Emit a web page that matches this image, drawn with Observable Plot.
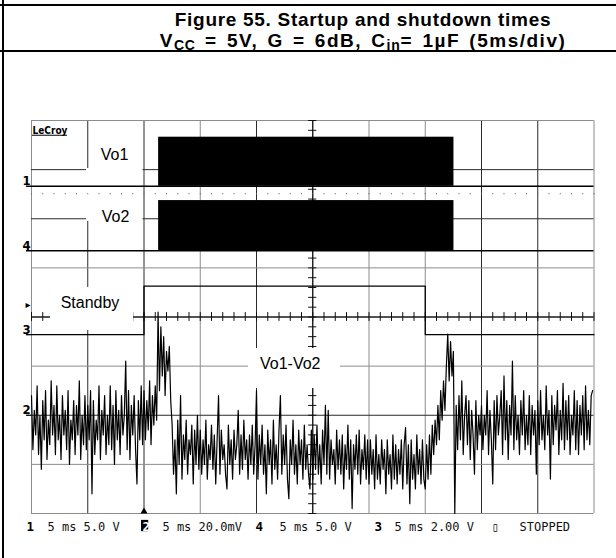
<!DOCTYPE html>
<html>
<head>
<meta charset="utf-8">
<script src="https://cdn.jsdelivr.net/npm/d3@7"></script>
<script src="https://cdn.jsdelivr.net/npm/@observablehq/plot@0.6"></script>
<style>
  html, body { margin: 0; padding: 0; background: #fff; }
  #page { position: relative; width: 616px; height: 558px; overflow: hidden; background: #fff; }
  .rule { position: absolute; background: #000; }
  .tline { position: absolute; left: 110px; width: 506px; text-align: center; white-space: nowrap;
           font-family: "Liberation Sans", Arial, Helvetica, sans-serif; font-weight: bold;
           font-size: 19px; line-height: 18px; color: #000; }
  #t1 { letter-spacing: 0.7px; }
  #t2 { letter-spacing: 1.5px; word-spacing: 2.5px; }
  .sub { font-size: 14px; position: relative; top: 3.5px; letter-spacing: 0.8px; }
  #chart { position: absolute; left: 0; top: 52px; }
  #chart svg { display: block; }
</style>
</head>
<body>
<div id="page">
  <div class="tline" id="t1" style="top:10.6px"></div>
  <div class="tline" id="t2" style="top:31.9px"></div>
  <div id="chart"></div>
  <div class="rule" style="left:0;top:3.5px;width:616px;height:2px"></div>
  <div class="rule" style="left:0;top:50px;width:616px;height:2px"></div>
  <div class="rule" style="left:2px;top:0;width:2px;height:558px"></div>
</div>
<script>
// ---------------- data (time in ms, 5 ms/div; amplitude in screen divisions, 0 = bottom) -------------
const titleLine1 = "Figure 55. Startup and shutdown times";
const titleLine2 = ["V", "CC", " = 5V, G = 6dB, C", "in", "= 1µF (5ms/div)"];

const timeDomain = [0, 50];       // 10 div x 5 ms
const divDomain = [0, 8];         // 8 vertical divisions

const outputs = ["Vo1", "Vo2"];
const outBase = [6.66, 5.35];     // channel 1 / channel 4 ground level
const outPeak = [7.66, 6.37];     // top of the audio burst envelope
const burstWindow = [11.3, 37.55];

const standbyT = [0, 10, 10, 35, 35, 50];
const standbyLvl = [3.64, 3.64, 4.63, 4.63, 3.64, 3.64];

const diffBase = 2.0;             // channel 2 ground level
const sampleStep = 0.125;         // ms between samples of Vo1-Vo2
const vo1vo2 = [
  // 0-5 ms
  2.4,1.3,2.1,1.6,2.6,1.2,2.0,0.9,2.3,1.5,2.5,1.1,1.9,1.4,2.7,1.6,2.2,1.2,2.6,1.5,
  2.0,1.1,2.4,1.6,2.1,1.3,2.5,1.0,1.9,1.5,2.3,1.2,2.2,1.6,2.7,1.1,2.0,1.4,2.4,1.3,
  // 5-10 ms
  2.2,1.5,2.5,0.4,2.3,1.2,1.9,1.5,2.6,1.1,2.1,1.6,2.4,1.2,2.0,1.4,2.6,1.3,2.2,1.0,
  2.5,1.5,2.1,1.2,2.4,1.6,2.0,3.1,1.3,2.5,1.1,2.2,1.6,2.4,1.3,0.6,2.3,1.5,2.6,1.4,
  // 10-15 ms (startup pop)
  2.5,1.5,2.3,1.7,2.7,1.4,2.4,1.8,2.6,1.9,4.1,2.5,3.8,2.8,3.6,2.4,3.3,2.9,3.4,2.3,
  1.8,0.8,1.5,0.4,1.9,1.0,2.4,0.7,1.6,1.1,1.9,0.8,1.5,1.2,1.8,0.6,1.7,1.0,2.0,0.9,
  // 15-20 ms
  1.7,0.8,1.5,1.0,1.9,0.7,1.4,1.1,1.8,0.9,1.6,0.6,1.5,2.4,0.8,1.7,1.1,1.4,0.8,0.5,
  1.8,1.0,1.5,0.7,1.7,1.1,1.4,2.1,0.8,1.6,0.9,1.9,1.1,1.5,0.7,1.6,1.0,1.8,0.8,1.4,
  // 20-25 ms
  2.5,0.7,1.6,1.0,1.8,0.8,1.4,0.4,1.7,1.0,1.5,0.6,1.9,0.9,1.4,0.7,1.7,2.4,0.8,1.6,
  1.0,1.8,0.7,0.3,1.5,1.0,1.9,0.8,1.4,0.6,1.7,1.0,1.5,0.7,1.8,0.9,1.4,0.8,0.5,1.7,
  // 25-30 ms
  0.7,1.6,0.9,1.8,0.8,1.4,0.6,1.7,1.0,2.2,0.8,2.1,0.7,1.5,1.0,1.3,0.6,1.7,0.9,1.5,
  0.8,1.6,0.5,1.4,0.9,1.8,0.7,1.5,0.1,1.4,0.9,1.6,0.8,1.7,0.6,1.3,0.9,1.6,0.7,1.5,
  // 30-35 ms
  0.6,1.5,0.8,1.3,0.5,1.6,0.7,1.2,0.6,1.5,0.9,1.3,0.4,1.5,0.8,1.2,0.5,1.6,0.7,1.4,
  0.6,1.3,0.8,1.5,0.5,1.4,1.75,0.6,1.4,0.2,1.5,0.7,1.2,0.5,1.6,0.8,1.3,0.6,1.5,0.7,
  // 35-40 ms (shutdown pop)
  0.5,1.4,0.7,1.6,0.8,1.8,1.2,1.9,1.4,2.2,1.5,2.5,1.9,2.7,2.1,3.0,3.65,2.7,3.5,2.8,
  3.3,0.0,2.2,1.3,2.4,1.5,2.7,1.2,2.0,2.4,1.4,2.3,1.1,2.1,1.6,0.8,2.3,1.3,2.0,1.6,
  // 40-45 ms
  2.2,1.3,2.0,1.6,2.5,1.2,2.1,1.5,0.6,2.3,1.3,2.4,1.6,2.0,2.5,1.2,2.8,1.5,2.3,1.1,
  2.2,1.6,3.1,1.3,2.4,1.5,2.0,1.2,2.3,1.6,2.5,1.3,2.0,1.4,2.4,1.2,2.2,1.6,2.1,0.8,
  // 45-50 ms
  2.3,1.4,2.5,1.5,2.0,1.3,2.6,1.6,2.1,0.7,2.4,1.4,2.2,1.7,2.5,1.2,2.1,1.5,2.65,1.3,
  2.3,1.5,2.4,1.2,2.0,1.6,2.5,1.3,2.3,1.2,2.2,1.6,2.4,1.3,2.6,1.5,2.1,1.4,2.4,2.5
];

const traceLabels = ["Vo1", "Vo2", "Standby", "Vo1-Vo2"];
const markerDigits = ["1", "4", "3", "2"];
const markerLevels = [6.66, 5.35, 3.64, 2.0];
const statusDigits = ["1", "2", "4", "3"];
const statusSettings = ["5 ms 5.0 V", "5 ms 20.0mV", "5 ms 5.0 V", "5 ms 2.00 V"];
const statusState = ["▯", "STOPPED"];

// ---------------- layout (annotation positions, data units) ----------------
const labelPos = [[7.38, 7.31], [7.47, 6.04], [5.2, 4.285], [23.0, 3.04]];
const labelMasks = [
  {x1: 4.89, x2: 9.91, y1: 5.944, y2: 7.023},
  {x1: 1.69, x2: 9.07, y1: 3.725, y2: 4.60},
  {x1: 19.29, x2: 27.47, y1: 2.545, y2: 3.359}
];
const digitX = [-0.44, 9.87, 19.91, 30.49];
const settingsX = [1.42, 11.64, 22.04, 32.27];
const stateX = [40.89, 43.38];
const statusY = -0.35;

// ---------------- title ----------------
document.getElementById("t1").textContent = titleLine1;
document.getElementById("t2").innerHTML =
  titleLine2.map((s, i) => i % 2 === 1 ? `<span class="sub">${s}</span>` : s).join("");

// ---------------- derived ----------------
const diffData = vo1vo2.map((v, i) => ({t: i * sampleStep, v}));
const standbyData = standbyT.map((t, i) => ({t, v: standbyLvl[i]}));
const vMajor = d3.range(timeDomain[0], timeDomain[1] + 0.001, 5);
const hMajor = d3.range(divDomain[0], divDomain[1] + 0.001, 1);
const xMinor = d3.range(timeDomain[0], timeDomain[1] + 0.001, 1);
const yMinor = d3.range(divDomain[0], divDomain[1] + 0.001, 0.2);
const darkV = new Set([5, 10, 20, 25, 40, 45]);
const darkH = new Set([2, 4, 6, 7]);
const cx = 25, cy = 4;
const light = "#8c8c8c", dark = "#2a2a2a";
const sans = "'Liberation Sans', Arial, Helvetica, sans-serif";
const mono = "'DejaVu Sans Mono', monospace";

const chart = Plot.plot({
  width: 616,
  height: 506,
  marginLeft: 31,
  marginRight: 22.5,
  marginTop: 68,
  marginBottom: 45,
  x: {domain: timeDomain, axis: null},
  y: {domain: divDomain, axis: null},
  style: {background: "white", overflow: "visible", fontFamily: sans},
  marks: [
    // graticule
    Plot.ruleX(vMajor.filter(d => !darkV.has(d)), {stroke: light}),
    Plot.ruleX(vMajor.filter(d => darkV.has(d)), {stroke: dark}),
    Plot.ruleY(hMajor.filter(d => !darkH.has(d)), {stroke: light}),
    Plot.ruleY(hMajor.filter(d => darkH.has(d)), {stroke: dark}),
    Plot.ruleX(xMinor, {y1: cy - 0.09, y2: cy + 0.09, stroke: "#111"}),
    Plot.ruleY(yMinor, {x1: cx - 0.36, x2: cx + 0.36, stroke: "#111"}),
    Plot.ruleX([cx], {stroke: "#111"}),
    Plot.ruleY([cy], {stroke: "#111"}),
    // label boxes blank the graticule
    Plot.rect(labelMasks, {x1: "x1", x2: "x2", y1: "y1", y2: "y2", fill: "white"}),
    Plot.dot(xMinor, {x: d => d, y: 6.51, r: 0.6, fill: "#666", stroke: null}),
    // Vo1 / Vo2 audio bursts
    Plot.rect(outputs, {x1: burstWindow[0], x2: burstWindow[1],
      y1: (d, i) => outBase[i], y2: (d, i) => outPeak[i], fill: "black"}),
    Plot.ruleY(outBase, {x1: timeDomain[0] - 0.45, x2: timeDomain[1], stroke: "black", strokeWidth: 1.5}),
    // Standby
    Plot.line(standbyData, {x: "t", y: "v", stroke: "black", strokeWidth: 1.3}),
    Plot.ruleY([standbyLvl[0], diffBase], {x1: timeDomain[0] - 0.45, x2: timeDomain[0], stroke: "black", strokeWidth: 1.3}),
    // Vo1-Vo2
    Plot.line(diffData, {x: "t", y: "v", stroke: "#000", strokeWidth: 1.2}),
    // trace labels
    Plot.text(traceLabels, {x: (d, i) => labelPos[i][0], y: (d, i) => labelPos[i][1], text: d => d,
      fontSize: 16, fontFamily: sans, fill: "black"}),
    Plot.text(["LeCroy"], {x: 0.09, y: 7.735, text: d => d, textAnchor: "start", lineAnchor: "bottom",
      fontSize: 10, fontWeight: "bold", fontFamily: "'DejaVu Sans Condensed', 'DejaVu Sans', sans-serif", fill: "black"}),
    Plot.ruleY([7.70], {x1: 0.09, x2: 3.2, stroke: "black", strokeWidth: 1}),
    // channel markers
    Plot.text(markerDigits, {x: -0.08, y: (d, i) => markerLevels[i], text: d => d, textAnchor: "end",
      lineAnchor: "bottom", dy: -1, fontSize: 13, fontWeight: "bold",
      fontFamily: "'Liberation Sans Narrow', 'DejaVu Sans Condensed', sans-serif", fill: "black"}),
    Plot.text(["▸"], {x: -0.31, y: 4.244, text: d => d, fontSize: 10, fontFamily: "'DejaVu Sans', sans-serif", fill: "black"}),
    Plot.dot([standbyT[1]], {x: d => d, y: divDomain[0], symbol: "triangle", r: 2.6, dy: -2, fill: "black", stroke: null}),
    // status line
    Plot.rect([statusDigits[1]], {x1: digitX[1] - 0.09, x2: digitX[1] + 0.55, y1: statusY - 0.02, y2: statusY + 0.21, fill: "black"}),
    Plot.text(statusDigits.filter((d, i) => i !== 1), {x: (d, i) => digitX.filter((x, j) => j !== 1)[i], y: statusY,
      text: d => d, textAnchor: "start", lineAnchor: "bottom", fontSize: 12.5, fontWeight: "bold", fontFamily: mono, fill: "black"}),
    Plot.text([statusDigits[1]], {x: digitX[1], y: statusY, text: d => d, textAnchor: "start", lineAnchor: "bottom",
      fontSize: 12.5, fontWeight: "bold", fontFamily: mono, fill: "white"}),
    Plot.text(statusSettings, {x: (d, i) => settingsX[i], y: statusY, text: d => d, textAnchor: "start",
      lineAnchor: "bottom", fontSize: 12, fontFamily: mono, fill: "#111"}),
    Plot.text(statusState, {x: (d, i) => stateX[i], y: statusY, text: d => d, textAnchor: "start",
      lineAnchor: "bottom", fontSize: 12, fontFamily: mono, fill: "#111"})
  ]
});
document.getElementById("chart").appendChild(chart);
</script>
</body>
</html>
